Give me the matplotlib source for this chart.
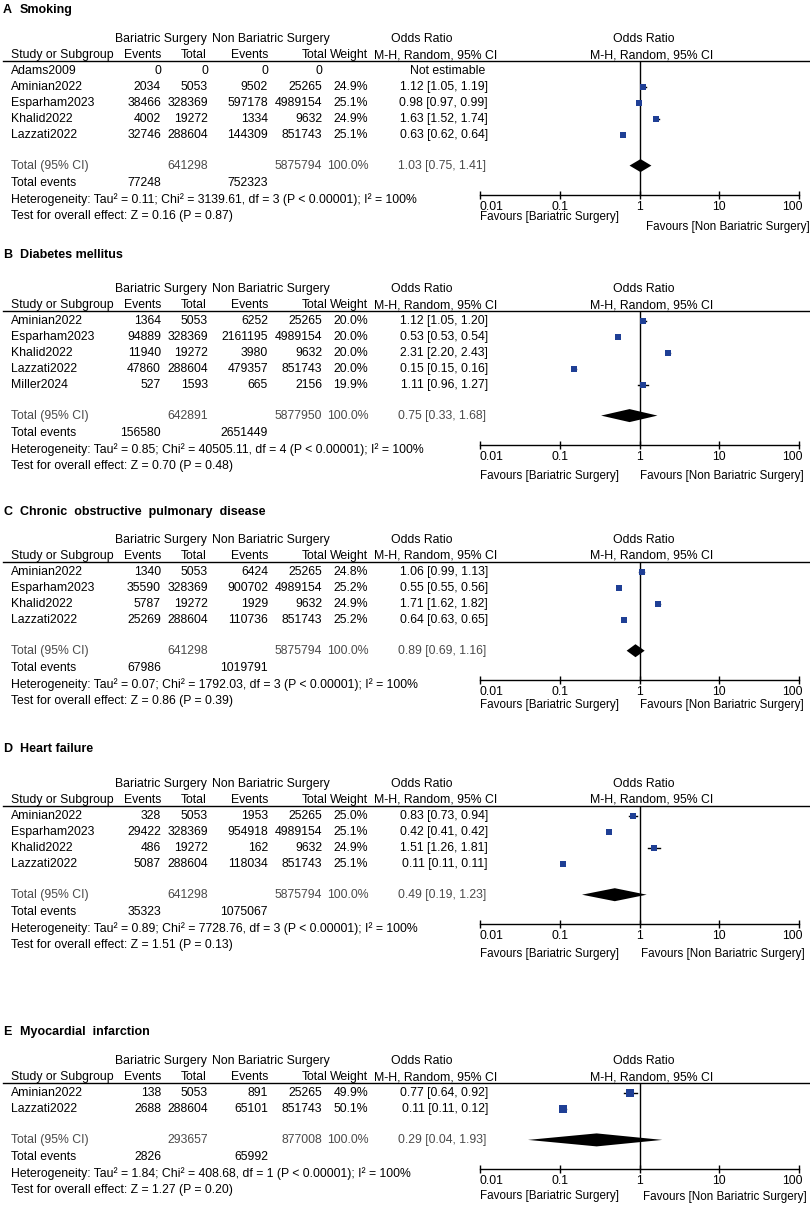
import numpy as np
import matplotlib.pyplot as plt
from matplotlib.transforms import ScaledTranslation

plt.rcParams['font.family'] = ['Liberation Sans', 'DejaVu Sans']
FS = 8.8

# A  Smoking
a_study = ['Adams2009', 'Aminian2022', 'Esparham2023', 'Khalid2022', 'Lazzati2022']
a_bs_ev = [0, 2034, 38466, 4002, 32746]
a_bs_n = [0, 5053, 328369, 19272, 288604]
a_nb_ev = [0, 9502, 597178, 1334, 144309]
a_nb_n = [0, 25265, 4989154, 9632, 851743]
a_wt = [None, 24.9, 25.1, 24.9, 25.1]
a_or = [None, 1.12, 0.98, 1.63, 0.63]
a_lo = [None, 1.05, 0.97, 1.52, 0.62]
a_hi = [None, 1.19, 0.99, 1.74, 0.64]
a_pool = [1.03, 0.75, 1.41]
a_tot_n = [641298, 5875794]
a_tot_ev = [77248, 752323]
a_het = "Tau\u00b2 = 0.11; Chi\u00b2 = 3139.61, df = 3 (P < 0.00001); I\u00b2 = 100%"
a_z = "Z = 0.16 (P = 0.87)"

# B  Diabetes mellitus
b_study = ['Aminian2022', 'Esparham2023', 'Khalid2022', 'Lazzati2022', 'Miller2024']
b_bs_ev = [1364, 94889, 11940, 47860, 527]
b_bs_n = [5053, 328369, 19272, 288604, 1593]
b_nb_ev = [6252, 2161195, 3980, 479357, 665]
b_nb_n = [25265, 4989154, 9632, 851743, 2156]
b_wt = [20.0, 20.0, 20.0, 20.0, 19.9]
b_or = [1.12, 0.53, 2.31, 0.15, 1.11]
b_lo = [1.05, 0.53, 2.20, 0.15, 0.96]
b_hi = [1.20, 0.54, 2.43, 0.16, 1.27]
b_pool = [0.75, 0.33, 1.68]
b_tot_n = [642891, 5877950]
b_tot_ev = [156580, 2651449]
b_het = "Tau\u00b2 = 0.85; Chi\u00b2 = 40505.11, df = 4 (P < 0.00001); I\u00b2 = 100%"
b_z = "Z = 0.70 (P = 0.48)"

# C  COPD
c_study = ['Aminian2022', 'Esparham2023', 'Khalid2022', 'Lazzati2022']
c_bs_ev = [1340, 35590, 5787, 25269]
c_bs_n = [5053, 328369, 19272, 288604]
c_nb_ev = [6424, 900702, 1929, 110736]
c_nb_n = [25265, 4989154, 9632, 851743]
c_wt = [24.8, 25.2, 24.9, 25.2]
c_or = [1.06, 0.55, 1.71, 0.64]
c_lo = [0.99, 0.55, 1.62, 0.63]
c_hi = [1.13, 0.56, 1.82, 0.65]
c_pool = [0.89, 0.69, 1.16]
c_tot_n = [641298, 5875794]
c_tot_ev = [67986, 1019791]
c_het = "Tau\u00b2 = 0.07; Chi\u00b2 = 1792.03, df = 3 (P < 0.00001); I\u00b2 = 100%"
c_z = "Z = 0.86 (P = 0.39)"

# D  Heart failure
d_study = ['Aminian2022', 'Esparham2023', 'Khalid2022', 'Lazzati2022']
d_bs_ev = [328, 29422, 486, 5087]
d_bs_n = [5053, 328369, 19272, 288604]
d_nb_ev = [1953, 954918, 162, 118034]
d_nb_n = [25265, 4989154, 9632, 851743]
d_wt = [25.0, 25.1, 24.9, 25.1]
d_or = [0.83, 0.42, 1.51, 0.11]
d_lo = [0.73, 0.41, 1.26, 0.11]
d_hi = [0.94, 0.42, 1.81, 0.11]
d_pool = [0.49, 0.19, 1.23]
d_tot_n = [641298, 5875794]
d_tot_ev = [35323, 1075067]
d_het = "Tau\u00b2 = 0.89; Chi\u00b2 = 7728.76, df = 3 (P < 0.00001); I\u00b2 = 100%"
d_z = "Z = 1.51 (P = 0.13)"

# E  Myocardial infarction
e_study = ['Aminian2022', 'Lazzati2022']
e_bs_ev = [138, 2688]
e_bs_n = [5053, 288604]
e_nb_ev = [891, 65101]
e_nb_n = [25265, 851743]
e_wt = [49.9, 50.1]
e_or = [0.77, 0.11]
e_lo = [0.64, 0.11]
e_hi = [0.92, 0.12]
e_pool = [0.29, 0.04, 1.93]
e_tot_n = [293657, 877008]
e_tot_ev = [2826, 65992]
e_het = "Tau\u00b2 = 1.84; Chi\u00b2 = 408.68, df = 1 (P < 0.00001); I\u00b2 = 100%"
e_z = "Z = 1.27 (P = 0.20)"

panels = [
    ('A', 'Smoking', a_study, a_bs_ev, a_bs_n, a_nb_ev, a_nb_n, a_wt, a_or, a_lo, a_hi, a_pool, a_tot_n, a_tot_ev, a_het, a_z),
    ('B', 'Diabetes mellitus', b_study, b_bs_ev, b_bs_n, b_nb_ev, b_nb_n, b_wt, b_or, b_lo, b_hi, b_pool, b_tot_n, b_tot_ev, b_het, b_z),
    ('C', 'Chronic  obstructive  pulmonary  disease', c_study, c_bs_ev, c_bs_n, c_nb_ev, c_nb_n, c_wt, c_or, c_lo, c_hi, c_pool, c_tot_n, c_tot_ev, c_het, c_z),
    ('D', 'Heart failure', d_study, d_bs_ev, d_bs_n, d_nb_ev, d_nb_n, d_wt, d_or, d_lo, d_hi, d_pool, d_tot_n, d_tot_ev, d_het, d_z),
    ('E', 'Myocardial  infarction', e_study, e_bs_ev, e_bs_n, e_nb_ev, e_nb_n, e_wt, e_or, e_lo, e_hi, e_pool, e_tot_n, e_tot_ev, e_het, e_z),
]

# layout (pixels)
first_row_y = [71, 321, 572, 816, 1093]
title_y = [10, 255, 512, 749, 1032]
fav_dy = [(22, 32), (31, 31), (25, 25), (30, 30), (27, 28)]
fav_rx = [646, 640, 640, 641, 643]
pitch = 15.9
navy = '#1f3f95'
grey = '#4a4a4a'

W, H = 810, 1210
fig = plt.figure(figsize=(8.1, 12.1), dpi=100)
tab = fig.add_axes([0, 0, 1, 1])
tab.set_xlim(0, W)
tab.set_ylim(H, 0)
tab.axis('off')


def txt(x, y, s, ha='left', fs=FS, **kw):
    tab.text(x, y, s, ha=ha, va='center', fontsize=fs, **kw)


for k, p in enumerate(panels):
    tag, title, study, bs_ev, bs_n, nb_ev, nb_n, wt, orr, lo, hi, pool, tot_n, tot_ev, het, z = p
    y0 = first_row_y[k]
    tab.text(3, title_y[k], tag, ha='left', va='center', fontsize=9, fontweight='bold')
    tab.text(20, title_y[k], title, ha='left', va='center', fontsize=9, fontweight='bold')

    # headers
    h1, h2 = y0 - 32, y0 - 16
    txt(115, h1, 'Bariatric Surgery')
    txt(212, h1, 'Non Bariatric Surgery')
    txt(422, h1, 'Odds Ratio', ha='center')
    txt(644, h1, 'Odds Ratio', ha='center')
    txt(11, h2, 'Study or Subgroup')
    txt(161, h2, 'Events', ha='right')
    txt(207, h2, 'Total', ha='right')
    txt(268, h2, 'Events', ha='right')
    txt(328, h2, 'Total', ha='right')
    txt(368, h2, 'Weight', ha='right')
    txt(436, h2, 'M-H, Random, 95% CI', ha='center')
    txt(652, h2, 'M-H, Random, 95% CI', ha='center')
    rule = y0 - 10.5
    tab.plot([3, W], [rule, rule], color='k', lw=1)

    ys = [y0 + i * pitch for i in range(len(study))]
    for i, y in enumerate(ys):
        txt(11, y, study[i])
        txt(161, y, str(bs_ev[i]), ha='right')
        txt(208, y, str(bs_n[i]), ha='right')
        txt(268, y, str(nb_ev[i]), ha='right')
        txt(322, y, str(nb_n[i]), ha='right')
        if wt[i] is None:
            txt(448, y, 'Not estimable', ha='center')
        else:
            txt(368, y, '%.1f%%' % wt[i], ha='right')
            txt(488, y, '%.2f [%.2f, %.2f]' % (orr[i], lo[i], hi[i]), ha='right')

    ty = ys[-1] + 31
    txt(11, ty, 'Total (95% CI)', color=grey)
    txt(208, ty, str(tot_n[0]), ha='right', color=grey)
    txt(322, ty, str(tot_n[1]), ha='right', color=grey)
    txt(369, ty, '100.0%', ha='right', color=grey)
    txt(486, ty, '%.2f [%.2f, %.2f]' % tuple(pool), ha='right', color=grey)
    txt(11, ty + 17.5, 'Total events')
    txt(161, ty + 17.5, str(tot_ev[0]), ha='right')
    txt(268, ty + 17.5, str(tot_ev[1]), ha='right')
    txt(11, ty + 34, 'Heterogeneity: ' + het)
    txt(11, ty + 50, 'Test for overall effect: ' + z)

    # forest plot
    axis_y = ty + 29.5
    fx0, fx1 = 480, 799
    ax = fig.add_axes([fx0 / W, 1 - axis_y / H, (fx1 - fx0) / W, (axis_y - rule) / H])
    ax.set_xscale('log')
    ax.set_xlim(0.01, 100)
    ax.set_ylim(axis_y, rule)
    ax.patch.set_alpha(0)
    for s in ['top', 'right', 'left']:
        ax.spines[s].set_visible(False)
    ax.spines['bottom'].set_linewidth(1)
    ax.set_yticks([])
    ax.set_xticks([0.01, 0.1, 1, 10, 100])
    ax.set_xticklabels(['0.01', '0.1', '1', '10', '100'])
    ax.minorticks_off()
    ax.tick_params(axis='x', direction='inout', length=6, width=1, pad=1, labelsize=FS)
    labs = ax.get_xticklabels()
    labs[0].set_ha('left')
    labs[-1].set_ha('right')
    labs[-1].set_transform(labs[-1].get_transform() + ScaledTranslation(0.04, 0, fig.dpi_scale_trans))
    ax.axvline(1, color='k', lw=1)

    for i, y in enumerate(ys):
        if orr[i] is None:
            continue
        ax.plot([lo[i], hi[i]], [y, y], color='k', lw=1)
        ax.plot(orr[i], y, marker='s', ms=0.9 * np.sqrt(wt[i]), color=navy, mew=0)
    est, plo, phi = pool
    ax.fill([plo, est, phi, est], [ty, ty - 6.5, ty, ty + 6.5], color='k', lw=0)

    txt(480, axis_y + fav_dy[k][0], 'Favours [Bariatric Surgery]', fs=8.4)
    txt(fav_rx[k], axis_y + fav_dy[k][1], 'Favours [Non Bariatric Surgery]', fs=8.4)

fig.savefig('out.png', dpi=100)
